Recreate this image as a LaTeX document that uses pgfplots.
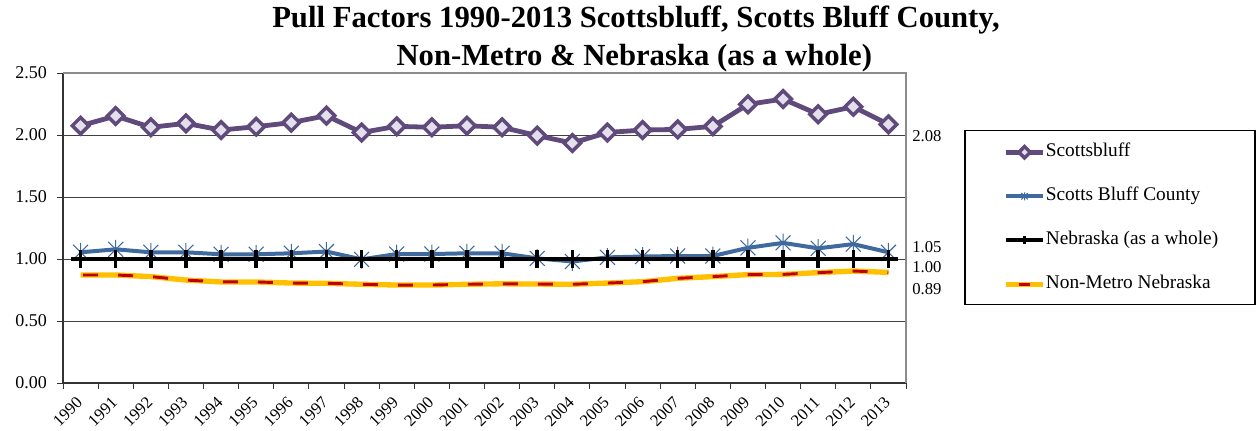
\documentclass[border=0pt]{standalone}
\usepackage{fontspec}
\setmainfont{Liberation Serif}
\usepackage{pgfplots}
\usepackage{pgfplotstable}
\pgfplotsset{compat=1.18}

\definecolor{sbpurple}{HTML}{604A7B}
\definecolor{sbfill}{HTML}{E4DFEC}
\definecolor{sbblue}{HTML}{3F6A9E}
\definecolor{nmyellow}{HTML}{FFC000}
\definecolor{nmred}{HTML}{C00000}

% Excel-style star: vertical bar plus an x
\pgfdeclareplotmark{xstar}{%
  \pgfpathmoveto{\pgfqpoint{0pt}{\pgfplotmarksize}}%
  \pgfpathlineto{\pgfqpoint{0pt}{-\pgfplotmarksize}}%
  \pgfpathmoveto{\pgfqpoint{-.8\pgfplotmarksize}{.8\pgfplotmarksize}}%
  \pgfpathlineto{\pgfqpoint{.8\pgfplotmarksize}{-.8\pgfplotmarksize}}%
  \pgfpathmoveto{\pgfqpoint{-.8\pgfplotmarksize}{-.8\pgfplotmarksize}}%
  \pgfpathlineto{\pgfqpoint{.8\pgfplotmarksize}{.8\pgfplotmarksize}}%
  \pgfusepathqstroke}

\pgfplotstableread{
x  city   county  state  nonmetro
0  2.075  1.054   1.00   0.871
1  2.153  1.078   1.00   0.871
2  2.062  1.054   1.00   0.858
3  2.094  1.054   1.00   0.830
4  2.040  1.038   1.00   0.815
5  2.067  1.038   1.00   0.815
6  2.100  1.046   1.00   0.806
7  2.156  1.060   1.00   0.804
8  2.020  0.997   1.00   0.796
9  2.070  1.040   1.00   0.790
10 2.062  1.040   1.00   0.790
11 2.075  1.046   1.00   0.796
12 2.062  1.046   1.00   0.800
13 1.995  1.005   1.00   0.798
14 1.935  0.980   1.00   0.796
15 2.020  1.013   1.00   0.806
16 2.040  1.020   1.00   0.817
17 2.045  1.024   1.00   0.844
18 2.070  1.024   1.00   0.858
19 2.247  1.090   1.00   0.874
20 2.290  1.130   1.00   0.876
21 2.167  1.086   1.00   0.890
22 2.228  1.120   1.00   0.903
23 2.086  1.054   1.00   0.892
}\pulldata

\begin{document}
\begin{tikzpicture}
\begin{axis}[
  scale only axis,
  width=632.25pt, height=232.5pt,
  xmin=-0.5, xmax=23.5,
  ymin=0, ymax=2.5,
  axis lines=left,
  axis line style={black!80, line width=0.8pt, -},
  xtick={0,...,23},
  xticklabels={1990,1991,1992,1993,1994,1995,1996,1997,1998,1999,2000,2001,
               2002,2003,2004,2005,2006,2007,2008,2009,2010,2011,2012,2013},
  major x tick style={draw=none},
  minor xtick={-0.5,0.5,...,23.5},
  minor tick length=4.5pt,
  minor x tick style={black!80, line width=0.6pt},
  xticklabel style={rotate=45, anchor=north east, font=\fontsize{12.5}{12.5}\selectfont,
    inner sep=0pt, xshift=-6.4pt, yshift=-0.9pt},
  ytick={0,0.5,...,2.5},
  /pgf/number format/fixed,
  /pgf/number format/fixed zerofill,
  /pgf/number format/precision=2,
  /pgf/number format/assume math mode=true,
  yticklabel style={font=\fontsize{13.5}{13.5}\selectfont, xshift=-4pt},
  tick align=outside,
  major tick length=4.5pt,
  major y tick style={black!80, line width=0.6pt},
  ymajorgrids,
  grid style={black!75, line width=0.6pt},
  clip=false,
  legend style={at={(1.115,0.771)}, anchor=north west, draw=none, fill=none,
    font=\fontsize{14.5}{14.5}\selectfont, row sep=21pt, inner sep=0pt,
    nodes={inner sep=0pt, text height=9pt, text depth=3pt}},
  legend cell align=left,
  legend image code/.code={\draw[mark repeat=2,mark phase=2,#1,mark size=3pt]
    plot coordinates {(0pt,0pt) (14pt,0pt) (28pt,0pt)};},
]
% gray plot-area border on top and right
\draw[black!45, line width=1pt] (rel axis cs:0,1) -- (rel axis cs:1,1) -- (rel axis cs:1,0);

\addplot[sbpurple, line width=3.6pt, mark=square*, mark size=4.4pt,
  mark options={rotate=45, fill=sbfill, draw=sbpurple, line width=2.6pt}]
  table[x=x, y=city] {\pulldata};
\addlegendentry{Scottsbluff}

\addplot[sbblue, line width=3pt, mark=xstar, mark size=7pt,
  mark options={line width=0.8pt, draw=sbblue}]
  table[x=x, y=county] {\pulldata};
\addlegendentry{Scotts Bluff County}

\addplot[black, line width=3.2pt, mark=+, mark size=7pt,
  mark options={line width=2.6pt}]
  table[x=x, y=state] {\pulldata};
\addlegendentry{Nebraska (as a whole)}

\addplot[nmyellow, line width=4pt, no marks,
  legend image code/.code={
    \draw[nmyellow, line width=4pt] (0pt,0pt) -- (28pt,0pt);
    \draw[nmred, line width=2.2pt] (10pt,0pt) -- (18pt,0pt);}]
  table[x=x, y=nonmetro] {\pulldata};
\addlegendentry{Non-Metro Nebraska}

\addplot[nmred, line width=2.2pt, no marks, dash pattern=on 11.25pt off 15pt, dash phase=-2pt, forget plot]
  table[x=x, y=nonmetro] {\pulldata};

% legend frame
\draw[black, line width=0.8pt] (rel axis cs:1.070,0.816) rectangle (rel axis cs:1.414,0.252);
\end{axis}

% value labels at the right end of the series
\begin{scope}[every node/.style={anchor=west, inner sep=0pt, font=\fontsize{12.5}{12.5}\selectfont}]
\node at (636.75pt,185.25pt) {2.08};
\node at (636.75pt,102pt) {1.05};
\node at (636.75pt,87pt) {1.00};
\node at (636.75pt,70.5pt) {0.89};
\end{scope}

% title
\node[anchor=base, font=\bfseries\fontsize{23}{23}\selectfont] at (429.75pt,266.25pt)
  {Pull Factors 1990-2013 Scottsbluff, Scotts Bluff County,};
\node[anchor=base, font=\bfseries\fontsize{23}{23}\selectfont] at (428.5pt,237.75pt)
  {Non-Metro \& Nebraska (as a whole)};

\pgfresetboundingbox
\path[use as bounding box] (-47.25pt,-36pt) rectangle (897.75pt,287.25pt);
\end{tikzpicture}
\end{document}
